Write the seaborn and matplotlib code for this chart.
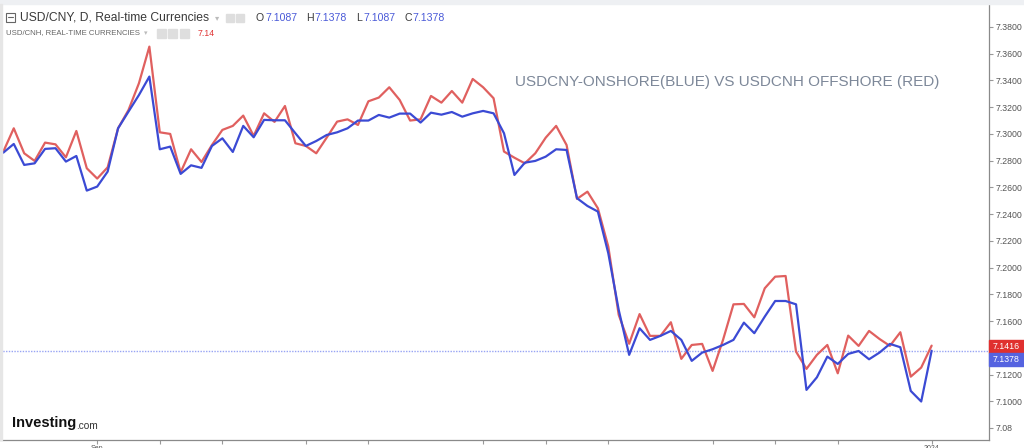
import pandas as pd
import seaborn as sns
import matplotlib.pyplot as plt
from matplotlib.patches import Rectangle
from matplotlib.transforms import blended_transform_factory

# daily closes (onshore = blue, offshore = red)
usdcny_onshore = [
    7.2860, 7.2925, 7.2768, 7.2780, 7.2888, 7.2893, 7.2793, 7.2835, 7.2576, 7.2606,
    7.2718, 7.3042, 7.3167, 7.3291, 7.3429, 7.2885, 7.2905, 7.2701, 7.2765, 7.2746,
    7.2910, 7.2967, 7.2865, 7.3060, 7.2975, 7.3105, 7.3102, 7.3102, 7.3005, 7.2910,
    7.2947, 7.2992, 7.3012, 7.3042, 7.3100, 7.3100, 7.3142, 7.3122, 7.3152, 7.3152,
    7.3085, 7.3159, 7.3144, 7.3164, 7.3129, 7.3154, 7.3172, 7.3154, 7.3005, 7.2693,
    7.2785, 7.2798, 7.2830, 7.2885, 7.2880, 7.2519, 7.2461, 7.2419, 7.2107, 7.1683,
    7.1347, 7.1546, 7.1459, 7.1489, 7.1526, 7.1459, 7.1302, 7.1364, 7.1389, 7.1421,
    7.1459, 7.1588, 7.1509, 7.1633, 7.1750, 7.1750, 7.1725, 7.1085, 7.1179, 7.1334,
    7.1279, 7.1354, 7.1376, 7.1314, 7.1364, 7.1429, 7.1404, 7.1077, 7.0998, 7.1378,
]
usdcnh_offshore = [
    7.2868, 7.3042, 7.2855, 7.2798, 7.2935, 7.2922, 7.2825, 7.3022, 7.2743, 7.2666,
    7.2750, 7.3042, 7.3179, 7.3379, 7.3653, 7.3012, 7.3000, 7.2713, 7.2885, 7.2790,
    7.2917, 7.3030, 7.3060, 7.3137, 7.2985, 7.3154, 7.3090, 7.3209, 7.2930, 7.2910,
    7.2855, 7.2972, 7.3092, 7.3109, 7.3067, 7.3244, 7.3272, 7.3349, 7.3254, 7.3100,
    7.3109, 7.3284, 7.3234, 7.3321, 7.3234, 7.3411, 7.3349, 7.3267, 7.2868, 7.2822,
    7.2780, 7.2855, 7.2972, 7.3060, 7.2917, 7.2514, 7.2568, 7.2444, 7.2157, 7.1646,
    7.1430, 7.1652, 7.1489, 7.1489, 7.1591, 7.1317, 7.1421, 7.1429, 7.1227, 7.1459,
    7.1725, 7.1728, 7.1628, 7.1845, 7.1932, 7.1937, 7.1371, 7.1242, 7.1347, 7.1421,
    7.1209, 7.1491, 7.1414, 7.1526, 7.1466, 7.1414, 7.1516, 7.1184, 7.1252, 7.1416,
]
tick_days = [9, 15, 21, 29, 35, 46, 52, 58, 68, 74, 80, 89]
tick_names = ['Sep', '', '', '', '', '', '', '', '', '', '', '2024']
y_ticks = [7.08 + 0.02 * k for k in range(16)]
ohlc = [('O', '7.1087'), ('H', '7.1378'), ('L', '7.1087'), ('C', '7.1378')]

BLUE = '#3b4ad4'
RED = '#e0605f'
FONT = ['Liberation Sans', 'DejaVu Sans']

df = pd.DataFrame({
    'day': list(range(len(usdcny_onshore))) * 2,
    'price': usdcnh_offshore + usdcny_onshore,
    'pair': ['USD/CNH'] * len(usdcnh_offshore) + ['USD/CNY'] * len(usdcny_onshore),
})

sns.set_style('white')
plt.rcParams['font.family'] = FONT

fig = plt.figure(figsize=(10.24, 4.48), dpi=100)
ax = fig.add_axes([0, 8 / 448, 989 / 1024, 436 / 448])

sns.lineplot(data=df, x='day', y='price', hue='pair',
             palette={'USD/CNH': RED, 'USD/CNY': BLUE},
             linewidth=1.6, legend=False, ax=ax)

ax.set_xlim(-0.32, 94.5)
ax.set_ylim(7.0710, 7.3972)
ax.set_xlabel('')
ax.set_ylabel('')

# last-price line
ax.axhline(usdcny_onshore[-1], color='#98a4f4', lw=1.0, ls=(0, (1, 1)), zorder=0)


def ytick_label(v):
    if abs(v - 7.08) < 1e-9:
        return '7.08'
    if abs(v - 7.14) < 1e-9:
        return ''  # hidden behind the price flags
    return f'{v:.4f}'


ax.yaxis.tick_right()
ax.set_yticks(y_ticks)
ax.set_yticklabels([ytick_label(v) for v in y_ticks])
ax.set_xticks(tick_days)
ax.set_xticklabels(tick_names)
ax.tick_params(axis='y', which='both', right=True, length=3, width=0.8, color='#999999',
               labelsize=6.3, labelcolor='#555555', pad=1.5)
ax.tick_params(axis='x', which='both', bottom=True, length=3, width=0.8, color='#999999',
               labelsize=5, labelcolor='#555555', pad=0.5)

for side in ['top', 'left']:
    ax.spines[side].set_visible(False)
for side in ['right', 'bottom']:
    ax.spines[side].set_color('#8a8a8a')
    ax.spines[side].set_linewidth(0.9)

# price flags on the right scale
trans = blended_transform_factory(ax.transAxes, ax.transData)
box_h = 13 * (ax.get_ylim()[1] - ax.get_ylim()[0]) / 436
red_y = usdcnh_offshore[-1] - 0.0006
ax.add_patch(Rectangle((1.0, red_y - box_h / 2), 0.04, box_h, transform=trans,
                       color='#e0302f', clip_on=False, zorder=5))
ax.add_patch(Rectangle((1.0, red_y - 1.5 * box_h), 0.04, box_h, transform=trans,
                       color='#5563e0', clip_on=False, zorder=5))
ax.text(1.004, red_y, f'{usdcnh_offshore[-1]:.4f}', transform=trans, color='white',
        fontsize=6.3, va='center', ha='left', zorder=6)
ax.text(1.004, red_y - box_h, f'{usdcny_onshore[-1]:.4f}', transform=trans, color='white',
        fontsize=6.3, va='center', ha='left', zorder=6)

renderer = fig.canvas.get_renderer()


def put(s, x, y, width=None, size=8, **kw):
    # place text by pixel position; scale font so it spans `width` pixels
    t = fig.text(x / 1024, 1 - y / 448, s, fontsize=size, va='center', ha='left', **kw)
    if width:
        w = t.get_window_extent(renderer).width
        t.set_fontsize(size * width / w)
    return t.get_window_extent(renderer).x1


def box(x, y, w, h, **kw):
    fig.patches.append(Rectangle((x / 1024, 1 - (y + h) / 448), w / 1024, h / 448,
                                 transform=fig.transFigure, **kw))


# title
put('USDCNY-ONSHORE(BLUE) VS USDCNH OFFSHORE (RED)', 515, 82, width=425, size=11,
    color='#7d8899')

# top strip and faint left border
box(0, 0, 1024, 4, color='#eef0f3', zorder=0)
box(0, 4, 1.5, 436, color='#e6e6e6', zorder=0)

# header line 1
box(6, 13, 9, 9, fill=False, ec='#666666', lw=0.8)
fig.lines.append(plt.Line2D([8 / 1024, 13 / 1024], [1 - 17.5 / 448] * 2,
                            transform=fig.transFigure, color='#666666', lw=0.8))
put('USD/CNY, D, Real-time Currencies', 20, 18, width=190, color='#3a3a3a')
put('▾', 215, 18, size=6, color='#bbbbbb', family='DejaVu Sans')
box(226, 14, 8, 8, color='#dedede')
box(236, 14, 8, 8, color='#dedede')
x0 = 256
for letter, value in ohlc:
    x0 = put(letter, x0, 18, size=7.6, color='#3a3a3a')
    x0 = put(value, x0 + 1, 18, width=32, color='#4a5ad8') + 9

# header line 2
put('USD/CNH, REAL-TIME CURRENCIES', 6, 33, width=134, color='#666666')
put('▾', 144, 33, size=5, color='#bbbbbb', family='DejaVu Sans')
for bx in [157, 168, 180]:
    box(bx, 29, 9, 9, color='#dedede')
put('7.14', 198, 33, width=17, color='#e03535')

# investing.com logo
x1 = put('Investing', 12, 423, width=65, fontweight='bold', color='#111111')
put('.com', x1, 425.5, width=22, color='#333333')

fig.savefig('out.png', dpi=100, facecolor='white')
